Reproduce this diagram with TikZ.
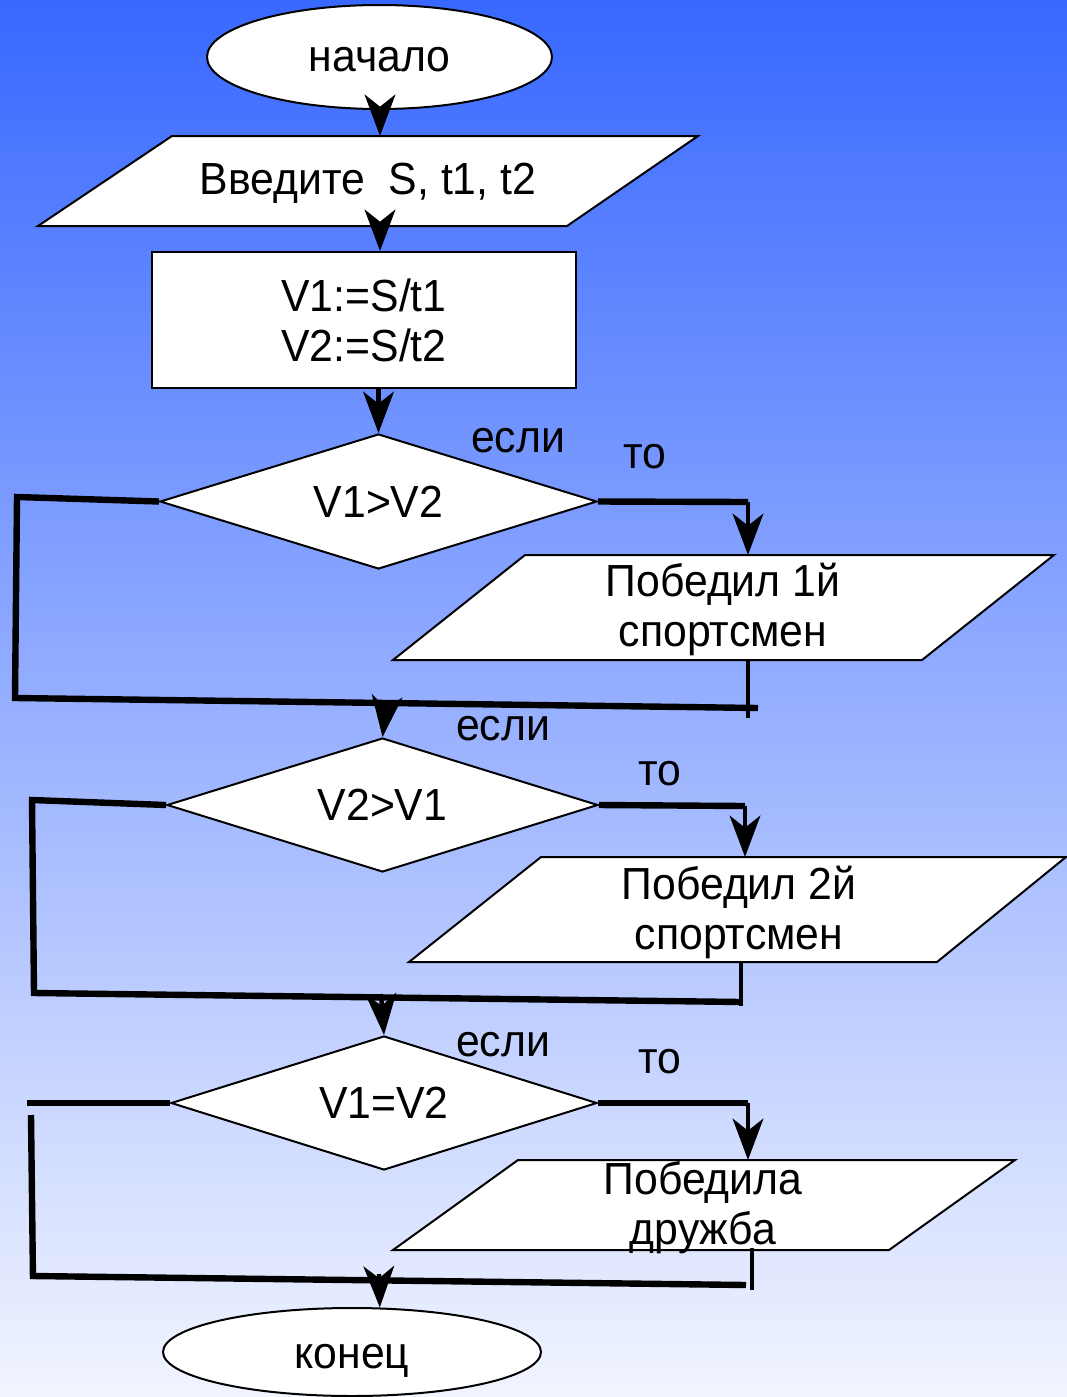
\documentclass[tikz,border=0pt]{standalone}
\usepackage{fontspec}
\setmainfont{Liberation Sans}[FakeStretch=0.95]
\usetikzlibrary{shapes.geometric,arrows.meta}
\definecolor{bgtop}{RGB}{56,104,255}
\definecolor{bgbot}{RGB}{242,245,255}
\begin{document}
\begin{tikzpicture}[x=0.75pt,y=-0.75pt,
  txt/.style={font=\fontsize{33.75pt}{37.5pt}\selectfont, inner sep=0pt, align=center},
  shp/.style={draw=black, line width=1.5pt, fill=white},
  term/.style={shp, ellipse, txt, text depth=0pt},
  dec/.style={shp, diamond, aspect=3.2, txt},
  proc/.style={shp, rectangle, txt},
  thk/.style={line width=4.8pt},
  thn/.style={line width=3.3pt},
  arr/.style={line width=3.3pt, -{Stealth[length=31pt,width=23pt,inset=9pt]}}
]
\useasboundingbox (0,0) rectangle (1067,1397);
\shade[top color=bgtop,bottom color=bgbot] (0,0) rectangle (1067,1397);

% shapes
\node[term, text height=21.8pt, minimum width=258.75pt, minimum height=78pt] (start) at (379.5,57) {начало};

\draw[shp] (172,136) -- (698,136) -- (567,226) -- (38,226) -- cycle;
\node[txt] (inp) at (368,183) {Введите\ \ S, t1, t2};
\coordinate (inpT) at (380,136);
\coordinate (inpB) at (380,226);

\node[proc, minimum width=318pt, minimum height=102pt] (calc) at (364,320) {V1:=S/t1\\V2:=S/t2};

\node[dec, minimum width=327.75pt, minimum height=101.25pt] (d1) at (378.5,501.5) {V1>V2};
\node[txt] (if1) at (518,441) {если};
\node[txt] (then1) at (645,457) {то};

\draw[shp] (525,555) -- (1054,555) -- (922,660) -- (393,660) -- cycle;
\node[txt] (out1) at (723,609) {Победил 1й\\спортсмен};
\coordinate (p2T) at (748,555);
\coordinate (p2B) at (748,660);

\node[dec, minimum width=323.25pt, minimum height=100.5pt] (d2) at (382.5,805) {V2>V1};
\node[txt] (if2) at (503,729) {если};
\node[txt] (then2) at (660,774) {то};

\draw[shp] (541,857) -- (1066,857) -- (937,962) -- (409,962) -- cycle;
\node[txt] (out2) at (739,912) {Победил 2й\\спортсмен};
\coordinate (p3T) at (745,857);
\coordinate (p3B) at (741,962);

\node[dec, minimum width=319.5pt, minimum height=100.5pt] (d3) at (384,1103) {V1=V2};
\node[txt] (if3) at (503,1045) {если};
\node[txt] (then3) at (660,1062) {то};

\draw[shp] (518,1160) -- (1015,1160) -- (889,1250) -- (393,1250) -- cycle;
\coordinate (p4T) at (748,1160);
\coordinate (p4B) at (752,1248);

\node[term, text height=24.8pt, minimum width=283.5pt, minimum height=66pt] (stop) at (352,1352) {конец};

% connectors
\draw[arr] (start.south -| inpT) -- (inpT);
\draw[arr] (inpB) -- (inpB |- calc.north);
\draw[arr] (d1.north |- calc.south) -- (d1.north);

\coordinate (r1) at (748,502);
\draw[thk] (d1.east) -- (r1);
\draw[arr] (r1) -- (p2T);
\coordinate (t1) at (748,718);
\draw[thn] (p2B) -- (t1);
\coordinate (l1a) at (17,497);
\coordinate (l1b) at (15,698);
\coordinate (l1c) at (758,708);
\draw[thk] (d1.west) -- (l1a) -- (l1b) -- (l1c);
\coordinate (m1) at (386,706);
\draw[arr] (m1) -- (d2.north);

\coordinate (r2) at (745,806);
\draw[thk] (d2.east) -- (r2);
\draw[arr] (r2) -- (p3T);
\coordinate (t2) at (741,1006);
\draw[thn] (p3B) -- (t2);
\coordinate (l2a) at (32,800);
\coordinate (l2b) at (34,993);
\coordinate (l2c) at (741,1002);
\draw[thk] (d2.west) -- (l2a) -- (l2b) -- (l2c);
\coordinate (m2) at (381,994);
\draw[arr] (m2) -- (d3.north);

\coordinate (r3) at (748,1103);
\draw[thk] (d3.east) -- (r3);
\draw[arr] (r3) -- (p4T);
\coordinate (t3) at (752,1290);
\draw[thn] (p4B) -- (t3);
\coordinate (l3a) at (27,1103);
\draw[thk] (d3.west) -- (l3a);
\coordinate (l3b) at (31,1115);
\coordinate (l3c) at (33,1279);
\draw[thk] (l3b) -- (l3c);
\coordinate (l3d) at (33,1276);
\coordinate (l3e) at (746,1285);
\draw[thk] (l3d) -- (l3e);
\coordinate (m3) at (379,1274);
\draw[arr] (m3) -- (stop.58);

\node[txt] (out3) at (703,1208) {Победила\\дружба};
\end{tikzpicture}
\end{document}
